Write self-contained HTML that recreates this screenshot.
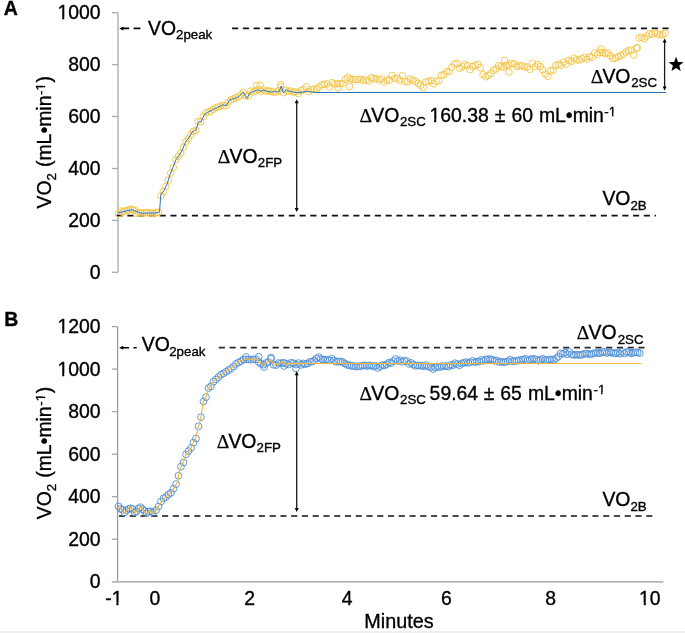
<!DOCTYPE html><html><head><meta charset="utf-8"><style>
html,body{margin:0;padding:0;background:#fff;}
body{width:685px;height:633px;overflow:hidden;position:relative;}
svg{position:absolute;left:0;top:0;will-change:transform;}
text{font-family:"Liberation Sans", sans-serif;fill:#000;stroke:#000;stroke-width:0.35px;}
text.sf{font-family:"Liberation Serif", serif;stroke-width:0.25px;}
</style></head><body>
<svg width="685" height="633" viewBox="0 0 685 633">
<rect x="0" y="631" width="685" height="2" fill="#efefef"/>

<line x1="118" y1="12.7" x2="118" y2="272.3" stroke="#a9a9a9" stroke-width="1.3"/>
<line x1="112" y1="12.7" x2="118" y2="12.7" stroke="#a9a9a9" stroke-width="1.3"/>
<text x="57.50" y="19.20" font-size="19.4">1000</text><rect x="57.72" y="16.75" width="4.46" height="3.85" fill="#fff"/><rect x="64.29" y="16.75" width="4.51" height="3.85" fill="#fff"/>
<line x1="112" y1="64.6" x2="118" y2="64.6" stroke="#a9a9a9" stroke-width="1.3"/>
<text x="68.29" y="71.12" font-size="19.4">800</text>
<line x1="112" y1="116.5" x2="118" y2="116.5" stroke="#a9a9a9" stroke-width="1.3"/>
<text x="68.29" y="123.04" font-size="19.4">600</text>
<line x1="112" y1="168.5" x2="118" y2="168.5" stroke="#a9a9a9" stroke-width="1.3"/>
<text x="68.29" y="174.96" font-size="19.4">400</text>
<line x1="112" y1="220.4" x2="118" y2="220.4" stroke="#a9a9a9" stroke-width="1.3"/>
<text x="68.29" y="226.88" font-size="19.4">200</text>
<line x1="112" y1="272.3" x2="118" y2="272.3" stroke="#a9a9a9" stroke-width="1.3"/>
<text x="89.87" y="278.80" font-size="19.4">0</text>
<line x1="117.6" y1="326.6" x2="117.6" y2="581.7" stroke="#9c9c9c" stroke-width="1.3"/>
<line x1="111.8" y1="581.8" x2="663.5" y2="581.8" stroke="#b4b4b4" stroke-width="1.8"/>
<line x1="111.8" y1="326.6" x2="117.6" y2="326.6" stroke="#a4a4a4" stroke-width="1.3"/>
<text x="57.50" y="333.10" font-size="19.4">1200</text><rect x="57.72" y="330.65" width="4.46" height="3.85" fill="#fff"/><rect x="64.29" y="330.65" width="4.51" height="3.85" fill="#fff"/>
<line x1="111.8" y1="369.1" x2="117.6" y2="369.1" stroke="#a4a4a4" stroke-width="1.3"/>
<text x="57.50" y="375.62" font-size="19.4">1000</text><rect x="57.72" y="373.17" width="4.46" height="3.85" fill="#fff"/><rect x="64.29" y="373.17" width="4.51" height="3.85" fill="#fff"/>
<line x1="111.8" y1="411.6" x2="117.6" y2="411.6" stroke="#a4a4a4" stroke-width="1.3"/>
<text x="68.29" y="418.14" font-size="19.4">800</text>
<line x1="111.8" y1="454.2" x2="117.6" y2="454.2" stroke="#a4a4a4" stroke-width="1.3"/>
<text x="68.29" y="460.66" font-size="19.4">600</text>
<line x1="111.8" y1="496.7" x2="117.6" y2="496.7" stroke="#a4a4a4" stroke-width="1.3"/>
<text x="68.29" y="503.18" font-size="19.4">400</text>
<line x1="111.8" y1="539.2" x2="117.6" y2="539.2" stroke="#a4a4a4" stroke-width="1.3"/>
<text x="68.29" y="545.70" font-size="19.4">200</text>
<text x="89.87" y="588.22" font-size="19.4">0</text>
<text x="105.24" y="604.60" font-size="19.4">-1</text><rect x="111.92" y="602.15" width="4.46" height="3.85" fill="#fff"/><rect x="118.50" y="602.15" width="4.51" height="3.85" fill="#fff"/>
<text x="149.61" y="604.60" font-size="19.4">0</text>
<text x="244.31" y="604.60" font-size="19.4">2</text>
<text x="341.77" y="604.60" font-size="19.4">4</text>
<text x="441.04" y="604.60" font-size="19.4">6</text>
<text x="545.31" y="604.60" font-size="19.4">8</text>
<text x="639.06" y="604.60" font-size="19.4">10</text><rect x="639.28" y="602.15" width="4.46" height="3.85" fill="#fff"/><rect x="645.85" y="602.15" width="4.51" height="3.85" fill="#fff"/>
<text x="364.28" y="628.40" font-size="19.8">Minutes</text>
<text x="3.71" y="14.50" font-size="19.5" font-weight="bold">A</text>
<text x="4.20" y="325.60" font-size="19.5" font-weight="bold">B</text>
<g transform="translate(50.7,208.6) rotate(-90)">
<text x="0.11" y="0.00" font-size="19.4">VO</text>
<text x="28.23" y="5.10" font-size="13.3">2</text>
<text x="41.60" y="0.00" font-size="19.4">(mL•min</text>
<text x="113.61" y="-6.00" font-size="13.3">-1</text><rect x="117.81" y="-7.99" width="3.37" height="3.39" fill="#fff"/><rect x="122.76" y="-7.99" width="3.47" height="3.39" fill="#fff"/>
<text x="126.14" y="0.00" font-size="19.4">)</text>
</g>
<g transform="translate(50.7,519.4) rotate(-90)">
<text x="0.11" y="0.00" font-size="19.4">VO</text>
<text x="28.23" y="5.10" font-size="13.3">2</text>
<text x="41.60" y="0.00" font-size="19.4">(mL•min</text>
<text x="113.61" y="-6.00" font-size="13.3">-1</text><rect x="117.81" y="-7.99" width="3.37" height="3.39" fill="#fff"/><rect x="122.76" y="-7.99" width="3.47" height="3.39" fill="#fff"/>
<text x="126.14" y="0.00" font-size="19.4">)</text>
</g>
<line x1="232.1" y1="28.4" x2="668.8" y2="28.4" stroke="#111" stroke-width="1.8" stroke-dasharray="6.1 4.66"/>
<line x1="116.6" y1="215.6" x2="656" y2="215.6" stroke="#111" stroke-width="1.8" stroke-dasharray="6.1 4.66"/>
<line x1="218.8" y1="347.7" x2="646" y2="347.7" stroke="#2a2a2a" stroke-width="1.8" stroke-dasharray="6.1 4.66"/>
<line x1="119" y1="516.1" x2="654" y2="516.1" stroke="#4a4a4a" stroke-width="2" stroke-dasharray="6.1 4.66"/>
<g fill="none" stroke="#F3C444" stroke-width="0.9">
<circle cx="118.5" cy="213.8" r="3.3"/>
<circle cx="120.5" cy="211.0" r="3.3"/>
<circle cx="122.5" cy="212.1" r="3.3"/>
<circle cx="124.5" cy="211.1" r="3.3"/>
<circle cx="126.5" cy="210.6" r="3.3"/>
<circle cx="128.5" cy="210.2" r="3.3"/>
<circle cx="130.5" cy="209.0" r="3.3"/>
<circle cx="132.5" cy="209.7" r="3.3"/>
<circle cx="134.5" cy="210.3" r="3.3"/>
<circle cx="136.5" cy="213.3" r="3.3"/>
<circle cx="138.5" cy="212.5" r="3.3"/>
<circle cx="140.5" cy="212.9" r="3.3"/>
<circle cx="142.5" cy="213.0" r="3.3"/>
<circle cx="144.5" cy="212.9" r="3.3"/>
<circle cx="146.5" cy="212.6" r="3.3"/>
<circle cx="148.5" cy="212.9" r="3.3"/>
<circle cx="150.5" cy="213.2" r="3.3"/>
<circle cx="152.5" cy="212.9" r="3.3"/>
<circle cx="154.5" cy="213.5" r="3.3"/>
<circle cx="156.5" cy="212.6" r="3.3"/>
<circle cx="158.5" cy="212.3" r="3.3"/>
<circle cx="160.8" cy="195.7" r="3.3"/>
<circle cx="163.3" cy="191.7" r="3.3"/>
<circle cx="165.8" cy="186.4" r="3.3"/>
<circle cx="168.3" cy="180.1" r="3.3"/>
<circle cx="170.8" cy="173.0" r="3.3"/>
<circle cx="173.3" cy="167.5" r="3.3"/>
<circle cx="175.8" cy="159.7" r="3.3"/>
<circle cx="178.3" cy="156.4" r="3.3"/>
<circle cx="180.8" cy="153.1" r="3.3"/>
<circle cx="183.3" cy="147.3" r="3.3"/>
<circle cx="185.8" cy="141.6" r="3.3"/>
<circle cx="188.3" cy="139.0" r="3.3"/>
<circle cx="190.8" cy="134.8" r="3.3"/>
<circle cx="193.3" cy="131.3" r="3.3"/>
<circle cx="195.8" cy="130.4" r="3.3"/>
<circle cx="198.3" cy="121.4" r="3.3"/>
<circle cx="200.8" cy="121.9" r="3.3"/>
<circle cx="203.3" cy="116.4" r="3.3"/>
<circle cx="205.8" cy="112.7" r="3.3"/>
<circle cx="208.3" cy="112.2" r="3.3"/>
<circle cx="210.8" cy="111.2" r="3.3"/>
<circle cx="213.3" cy="109.3" r="3.3"/>
<circle cx="215.8" cy="107.8" r="3.3"/>
<circle cx="218.3" cy="107.1" r="3.3"/>
<circle cx="220.8" cy="105.8" r="3.3"/>
<circle cx="223.3" cy="105.6" r="3.3"/>
<circle cx="225.8" cy="105.9" r="3.3"/>
<circle cx="228.3" cy="102.3" r="3.3"/>
<circle cx="230.8" cy="99.9" r="3.3"/>
<circle cx="233.3" cy="98.8" r="3.3"/>
<circle cx="235.8" cy="97.5" r="3.3"/>
<circle cx="238.3" cy="97.1" r="3.3"/>
<circle cx="240.8" cy="94.8" r="3.3"/>
<circle cx="243.3" cy="92.2" r="3.3"/>
<circle cx="245.8" cy="96.0" r="3.3"/>
<circle cx="248.3" cy="96.1" r="3.3"/>
<circle cx="250.8" cy="91.1" r="3.3"/>
<circle cx="253.3" cy="92.0" r="3.3"/>
<circle cx="255.8" cy="90.8" r="3.3"/>
<circle cx="258.3" cy="89.6" r="3.3"/>
<circle cx="260.8" cy="91.4" r="3.3"/>
<circle cx="263.3" cy="89.6" r="3.3"/>
<circle cx="265.8" cy="91.2" r="3.3"/>
<circle cx="268.3" cy="90.5" r="3.3"/>
<circle cx="270.8" cy="91.5" r="3.3"/>
<circle cx="273.3" cy="92.2" r="3.3"/>
<circle cx="275.8" cy="92.1" r="3.3"/>
<circle cx="278.3" cy="90.9" r="3.3"/>
<circle cx="280.8" cy="86.9" r="3.3"/>
<circle cx="283.3" cy="92.7" r="3.3"/>
<circle cx="285.8" cy="90.1" r="3.3"/>
<circle cx="288.3" cy="91.5" r="3.3"/>
<circle cx="290.8" cy="91.0" r="3.3"/>
<circle cx="293.3" cy="92.2" r="3.3"/>
<circle cx="295.8" cy="91.9" r="3.3"/>
<circle cx="298.3" cy="93.5" r="3.3"/>
<circle cx="301.0" cy="90.6" r="3.3"/>
<circle cx="303.6" cy="89.5" r="3.3"/>
<circle cx="306.2" cy="86.9" r="3.3"/>
<circle cx="308.8" cy="91.5" r="3.3"/>
<circle cx="311.4" cy="89.6" r="3.3"/>
<circle cx="314.0" cy="89.1" r="3.3"/>
<circle cx="316.6" cy="88.9" r="3.3"/>
<circle cx="319.2" cy="87.0" r="3.3"/>
<circle cx="321.8" cy="84.8" r="3.3"/>
<circle cx="324.4" cy="84.2" r="3.3"/>
<circle cx="327.0" cy="83.9" r="3.3"/>
<circle cx="329.6" cy="87.0" r="3.3"/>
<circle cx="332.2" cy="82.7" r="3.3"/>
<circle cx="334.8" cy="84.0" r="3.3"/>
<circle cx="337.4" cy="83.7" r="3.3"/>
<circle cx="340.0" cy="83.7" r="3.3"/>
<circle cx="342.6" cy="83.4" r="3.3"/>
<circle cx="345.2" cy="79.4" r="3.3"/>
<circle cx="347.8" cy="77.4" r="3.3"/>
<circle cx="350.4" cy="78.7" r="3.3"/>
<circle cx="353.0" cy="79.5" r="3.3"/>
<circle cx="355.6" cy="79.5" r="3.3"/>
<circle cx="358.2" cy="79.4" r="3.3"/>
<circle cx="360.8" cy="79.1" r="3.3"/>
<circle cx="363.4" cy="80.5" r="3.3"/>
<circle cx="366.0" cy="80.0" r="3.3"/>
<circle cx="368.6" cy="80.9" r="3.3"/>
<circle cx="371.2" cy="77.7" r="3.3"/>
<circle cx="373.8" cy="78.7" r="3.3"/>
<circle cx="376.4" cy="78.6" r="3.3"/>
<circle cx="379.0" cy="79.8" r="3.3"/>
<circle cx="381.6" cy="79.2" r="3.3"/>
<circle cx="384.2" cy="82.1" r="3.3"/>
<circle cx="386.8" cy="80.0" r="3.3"/>
<circle cx="389.4" cy="80.2" r="3.3"/>
<circle cx="392.0" cy="75.4" r="3.3"/>
<circle cx="394.6" cy="78.5" r="3.3"/>
<circle cx="397.2" cy="78.2" r="3.3"/>
<circle cx="399.8" cy="80.0" r="3.3"/>
<circle cx="402.4" cy="75.8" r="3.3"/>
<circle cx="405.0" cy="81.5" r="3.3"/>
<circle cx="407.6" cy="81.9" r="3.3"/>
<circle cx="410.2" cy="78.9" r="3.3"/>
<circle cx="412.8" cy="80.2" r="3.3"/>
<circle cx="415.4" cy="81.2" r="3.3"/>
<circle cx="418.0" cy="83.3" r="3.3"/>
<circle cx="420.6" cy="85.2" r="3.3"/>
<circle cx="423.2" cy="87.6" r="3.3"/>
<circle cx="425.8" cy="82.0" r="3.3"/>
<circle cx="428.4" cy="81.2" r="3.3"/>
<circle cx="431.0" cy="80.8" r="3.3"/>
<circle cx="433.6" cy="83.8" r="3.3"/>
<circle cx="436.2" cy="81.4" r="3.3"/>
<circle cx="438.8" cy="80.7" r="3.3"/>
<circle cx="441.4" cy="75.3" r="3.3"/>
<circle cx="444.0" cy="74.7" r="3.3"/>
<circle cx="446.6" cy="71.6" r="3.3"/>
<circle cx="449.2" cy="71.8" r="3.3"/>
<circle cx="451.8" cy="67.2" r="3.3"/>
<circle cx="454.4" cy="63.9" r="3.3"/>
<circle cx="457.0" cy="63.4" r="3.3"/>
<circle cx="459.6" cy="68.3" r="3.3"/>
<circle cx="462.2" cy="66.8" r="3.3"/>
<circle cx="464.8" cy="64.5" r="3.3"/>
<circle cx="467.4" cy="65.7" r="3.3"/>
<circle cx="470.0" cy="69.6" r="3.3"/>
<circle cx="472.6" cy="66.4" r="3.3"/>
<circle cx="475.2" cy="65.6" r="3.3"/>
<circle cx="477.8" cy="64.4" r="3.3"/>
<circle cx="480.4" cy="67.7" r="3.3"/>
<circle cx="483.0" cy="74.7" r="3.3"/>
<circle cx="485.6" cy="76.8" r="3.3"/>
<circle cx="488.2" cy="75.5" r="3.3"/>
<circle cx="490.8" cy="73.5" r="3.3"/>
<circle cx="493.4" cy="70.4" r="3.3"/>
<circle cx="496.0" cy="68.9" r="3.3"/>
<circle cx="498.6" cy="65.5" r="3.3"/>
<circle cx="501.2" cy="66.6" r="3.3"/>
<circle cx="503.8" cy="67.1" r="3.3"/>
<circle cx="506.4" cy="65.3" r="3.3"/>
<circle cx="509.0" cy="65.0" r="3.3"/>
<circle cx="511.6" cy="63.5" r="3.3"/>
<circle cx="514.2" cy="63.9" r="3.3"/>
<circle cx="516.8" cy="66.7" r="3.3"/>
<circle cx="519.4" cy="65.7" r="3.3"/>
<circle cx="522.0" cy="65.7" r="3.3"/>
<circle cx="524.6" cy="66.8" r="3.3"/>
<circle cx="527.2" cy="67.0" r="3.3"/>
<circle cx="529.8" cy="69.3" r="3.3"/>
<circle cx="532.4" cy="63.3" r="3.3"/>
<circle cx="535.0" cy="66.7" r="3.3"/>
<circle cx="537.6" cy="64.5" r="3.3"/>
<circle cx="540.2" cy="66.5" r="3.3"/>
<circle cx="542.8" cy="69.8" r="3.3"/>
<circle cx="545.4" cy="74.0" r="3.3"/>
<circle cx="548.0" cy="76.3" r="3.3"/>
<circle cx="550.6" cy="70.8" r="3.3"/>
<circle cx="553.2" cy="70.2" r="3.3"/>
<circle cx="555.8" cy="65.4" r="3.3"/>
<circle cx="558.4" cy="64.3" r="3.3"/>
<circle cx="561.0" cy="65.1" r="3.3"/>
<circle cx="563.6" cy="62.1" r="3.3"/>
<circle cx="566.2" cy="64.2" r="3.3"/>
<circle cx="568.8" cy="60.5" r="3.3"/>
<circle cx="571.4" cy="61.4" r="3.3"/>
<circle cx="574.0" cy="58.1" r="3.3"/>
<circle cx="576.6" cy="59.8" r="3.3"/>
<circle cx="579.2" cy="60.1" r="3.3"/>
<circle cx="581.8" cy="58.8" r="3.3"/>
<circle cx="584.4" cy="57.4" r="3.3"/>
<circle cx="587.0" cy="59.1" r="3.3"/>
<circle cx="589.6" cy="56.6" r="3.3"/>
<circle cx="592.2" cy="57.2" r="3.3"/>
<circle cx="594.8" cy="52.8" r="3.3"/>
<circle cx="597.4" cy="54.4" r="3.3"/>
<circle cx="600.0" cy="52.5" r="3.3"/>
<circle cx="602.6" cy="52.7" r="3.3"/>
<circle cx="605.2" cy="53.5" r="3.3"/>
<circle cx="607.8" cy="53.0" r="3.3"/>
<circle cx="610.4" cy="55.8" r="3.3"/>
<circle cx="613.0" cy="58.5" r="3.3"/>
<circle cx="615.6" cy="58.0" r="3.3"/>
<circle cx="618.2" cy="56.6" r="3.3"/>
<circle cx="620.8" cy="55.6" r="3.3"/>
<circle cx="623.4" cy="54.2" r="3.3"/>
<circle cx="626.0" cy="52.0" r="3.3"/>
<circle cx="628.6" cy="50.7" r="3.3"/>
<circle cx="631.2" cy="50.0" r="3.3"/>
<circle cx="633.8" cy="55.2" r="3.3"/>
<circle cx="636.4" cy="48.0" r="3.3"/>
<circle cx="639.0" cy="38.0" r="3.3"/>
<circle cx="641.6" cy="37.2" r="3.3"/>
<circle cx="644.2" cy="38.6" r="3.3"/>
<circle cx="646.8" cy="36.0" r="3.3"/>
<circle cx="649.4" cy="33.7" r="3.3"/>
<circle cx="652.0" cy="34.3" r="3.3"/>
<circle cx="654.6" cy="32.6" r="3.3"/>
<circle cx="657.2" cy="33.7" r="3.3"/>
<circle cx="659.8" cy="34.8" r="3.3"/>
<circle cx="662.4" cy="34.8" r="3.3"/>
<circle cx="665.0" cy="33.2" r="3.3"/>
<circle cx="256.4" cy="85.5" r="3.3"/>
<circle cx="280.5" cy="84.8" r="3.3"/>
<circle cx="260" cy="85" r="3.3"/>
<circle cx="349.6" cy="86.4" r="3.3"/>
<circle cx="338" cy="88" r="3.3"/>
<circle cx="504.6" cy="60.4" r="3.3"/>
<circle cx="509" cy="72.1" r="3.3"/>
<circle cx="601.2" cy="49.2" r="3.3"/>
<circle cx="637.3" cy="47.8" r="3.3"/>
</g>
<polyline points="118.3,212.8 122.0,212.0 126.0,211.0 129.0,210.2 132.8,209.8 136.0,211.5 140.7,213.1 145.0,213.2 150.0,213.0 155.0,213.0 157.3,212.6 159.5,212.0 160.8,194.9 161.1,194.3 163.7,190.9 167.2,183.9 169.8,175.2 173.3,166.5 175.9,159.6 179.3,155.2 182.8,149.1 185.4,142.2 188.9,137.8 192.4,131.7 195.9,130.0 198.5,122.2 201.1,121.3 204.6,114.3 207.2,112.6 212.4,110.0 217.6,107.4 222.8,104.8 226.3,105.7 229.8,99.6 234.1,98.7 238.9,96.5 243.2,92.1 246.9,98.2 250.5,92.4 254.2,91.4 257.1,89.9 260.8,91.4 263.7,89.9 267.3,91.4 271.7,92.1 275.4,91.4 279.0,92.1 281.2,86.0 283.4,92.8 286.3,89.9 290.0,91.4 293.6,92.1 298.0,92.8 302.4,92.1 306.8,91.4 312.6,92.1 317.0,92.5 666.0,92.5" fill="none" stroke="#2F75BA" stroke-width="1.0" stroke-linejoin="round"/>
<g fill="none" stroke="#4F8ED5" stroke-width="0.9">
<circle cx="118.5" cy="506.4" r="3.4"/>
<circle cx="120.5" cy="508.7" r="3.4"/>
<circle cx="122.5" cy="509.7" r="3.4"/>
<circle cx="124.5" cy="512.6" r="3.4"/>
<circle cx="126.5" cy="510.5" r="3.4"/>
<circle cx="128.5" cy="508.9" r="3.4"/>
<circle cx="130.5" cy="508.3" r="3.4"/>
<circle cx="132.5" cy="509.0" r="3.4"/>
<circle cx="134.5" cy="512.4" r="3.4"/>
<circle cx="136.5" cy="511.5" r="3.4"/>
<circle cx="138.5" cy="508.5" r="3.4"/>
<circle cx="140.5" cy="507.2" r="3.4"/>
<circle cx="142.5" cy="509.1" r="3.4"/>
<circle cx="144.5" cy="510.8" r="3.4"/>
<circle cx="146.5" cy="513.2" r="3.4"/>
<circle cx="148.5" cy="511.6" r="3.4"/>
<circle cx="150.5" cy="511.3" r="3.4"/>
<circle cx="152.5" cy="512.3" r="3.4"/>
<circle cx="156.0" cy="510.2" r="3.4"/>
<circle cx="158.5" cy="506.6" r="3.4"/>
<circle cx="161.0" cy="501.5" r="3.4"/>
<circle cx="163.5" cy="498.3" r="3.4"/>
<circle cx="166.0" cy="497.0" r="3.4"/>
<circle cx="168.5" cy="494.4" r="3.4"/>
<circle cx="171.0" cy="492.8" r="3.4"/>
<circle cx="173.5" cy="488.7" r="3.4"/>
<circle cx="176.0" cy="484.1" r="3.4"/>
<circle cx="178.5" cy="475.7" r="3.4"/>
<circle cx="181.0" cy="466.6" r="3.4"/>
<circle cx="183.5" cy="462.5" r="3.4"/>
<circle cx="186.0" cy="454.4" r="3.4"/>
<circle cx="188.5" cy="451.1" r="3.4"/>
<circle cx="191.0" cy="448.0" r="3.4"/>
<circle cx="193.5" cy="442.5" r="3.4"/>
<circle cx="196.0" cy="438.5" r="3.4"/>
<circle cx="198.5" cy="426.3" r="3.4"/>
<circle cx="201.0" cy="417.1" r="3.4"/>
<circle cx="203.5" cy="401.4" r="3.4"/>
<circle cx="206.0" cy="397.2" r="3.4"/>
<circle cx="208.5" cy="388.1" r="3.4"/>
<circle cx="211.0" cy="386.3" r="3.4"/>
<circle cx="213.5" cy="381.8" r="3.4"/>
<circle cx="216.0" cy="379.4" r="3.4"/>
<circle cx="218.5" cy="377.1" r="3.4"/>
<circle cx="221.0" cy="374.7" r="3.4"/>
<circle cx="223.5" cy="373.3" r="3.4"/>
<circle cx="226.0" cy="371.8" r="3.4"/>
<circle cx="228.5" cy="370.1" r="3.4"/>
<circle cx="231.0" cy="368.7" r="3.4"/>
<circle cx="233.5" cy="366.5" r="3.4"/>
<circle cx="236.0" cy="363.9" r="3.4"/>
<circle cx="238.5" cy="362.5" r="3.4"/>
<circle cx="241.0" cy="361.2" r="3.4"/>
<circle cx="243.5" cy="359.6" r="3.4"/>
<circle cx="246.0" cy="359.5" r="3.4"/>
<circle cx="248.5" cy="359.5" r="3.4"/>
<circle cx="251.0" cy="359.6" r="3.4"/>
<circle cx="253.5" cy="359.3" r="3.4"/>
<circle cx="256.0" cy="359.4" r="3.4"/>
<circle cx="258.5" cy="362.0" r="3.4"/>
<circle cx="261.0" cy="363.8" r="3.4"/>
<circle cx="263.5" cy="364.7" r="3.4"/>
<circle cx="266.0" cy="363.0" r="3.4"/>
<circle cx="268.5" cy="362.0" r="3.4"/>
<circle cx="271.0" cy="358.8" r="3.4"/>
<circle cx="273.5" cy="364.7" r="3.4"/>
<circle cx="276.0" cy="365.1" r="3.4"/>
<circle cx="278.5" cy="363.0" r="3.4"/>
<circle cx="281.0" cy="363.3" r="3.4"/>
<circle cx="283.5" cy="362.6" r="3.4"/>
<circle cx="286.0" cy="363.7" r="3.4"/>
<circle cx="288.5" cy="364.5" r="3.4"/>
<circle cx="291.0" cy="362.8" r="3.4"/>
<circle cx="293.5" cy="363.2" r="3.4"/>
<circle cx="296.0" cy="364.5" r="3.4"/>
<circle cx="298.5" cy="363.1" r="3.4"/>
<circle cx="301.0" cy="364.9" r="3.4"/>
<circle cx="303.2" cy="363.4" r="3.4"/>
<circle cx="305.4" cy="364.2" r="3.4"/>
<circle cx="307.6" cy="363.5" r="3.4"/>
<circle cx="309.8" cy="361.8" r="3.4"/>
<circle cx="312.0" cy="361.6" r="3.4"/>
<circle cx="314.2" cy="360.7" r="3.4"/>
<circle cx="316.4" cy="358.5" r="3.4"/>
<circle cx="318.6" cy="357.1" r="3.4"/>
<circle cx="320.8" cy="358.7" r="3.4"/>
<circle cx="323.0" cy="359.6" r="3.4"/>
<circle cx="325.2" cy="359.8" r="3.4"/>
<circle cx="327.4" cy="359.9" r="3.4"/>
<circle cx="329.6" cy="360.3" r="3.4"/>
<circle cx="331.8" cy="358.7" r="3.4"/>
<circle cx="334.0" cy="360.5" r="3.4"/>
<circle cx="336.2" cy="361.8" r="3.4"/>
<circle cx="338.4" cy="361.6" r="3.4"/>
<circle cx="340.6" cy="361.5" r="3.4"/>
<circle cx="342.8" cy="362.1" r="3.4"/>
<circle cx="345.0" cy="363.6" r="3.4"/>
<circle cx="347.2" cy="364.9" r="3.4"/>
<circle cx="349.4" cy="365.2" r="3.4"/>
<circle cx="351.6" cy="366.0" r="3.4"/>
<circle cx="353.8" cy="366.0" r="3.4"/>
<circle cx="356.0" cy="366.6" r="3.4"/>
<circle cx="358.2" cy="366.2" r="3.4"/>
<circle cx="360.4" cy="366.3" r="3.4"/>
<circle cx="362.6" cy="365.6" r="3.4"/>
<circle cx="364.8" cy="365.3" r="3.4"/>
<circle cx="367.0" cy="366.0" r="3.4"/>
<circle cx="369.2" cy="365.5" r="3.4"/>
<circle cx="371.4" cy="365.5" r="3.4"/>
<circle cx="373.6" cy="366.6" r="3.4"/>
<circle cx="375.8" cy="365.9" r="3.4"/>
<circle cx="378.0" cy="367.9" r="3.4"/>
<circle cx="380.2" cy="366.3" r="3.4"/>
<circle cx="382.4" cy="365.1" r="3.4"/>
<circle cx="384.6" cy="365.4" r="3.4"/>
<circle cx="386.8" cy="364.2" r="3.4"/>
<circle cx="389.0" cy="362.6" r="3.4"/>
<circle cx="391.2" cy="363.1" r="3.4"/>
<circle cx="393.4" cy="361.1" r="3.4"/>
<circle cx="395.6" cy="358.9" r="3.4"/>
<circle cx="397.8" cy="361.0" r="3.4"/>
<circle cx="400.0" cy="360.2" r="3.4"/>
<circle cx="402.2" cy="361.9" r="3.4"/>
<circle cx="404.4" cy="360.7" r="3.4"/>
<circle cx="406.6" cy="361.1" r="3.4"/>
<circle cx="408.8" cy="363.9" r="3.4"/>
<circle cx="411.0" cy="362.9" r="3.4"/>
<circle cx="413.2" cy="364.5" r="3.4"/>
<circle cx="415.4" cy="365.9" r="3.4"/>
<circle cx="417.6" cy="365.4" r="3.4"/>
<circle cx="419.8" cy="365.6" r="3.4"/>
<circle cx="422.0" cy="365.8" r="3.4"/>
<circle cx="424.2" cy="366.3" r="3.4"/>
<circle cx="426.4" cy="365.1" r="3.4"/>
<circle cx="428.6" cy="366.6" r="3.4"/>
<circle cx="430.8" cy="367.2" r="3.4"/>
<circle cx="433.0" cy="369.1" r="3.4"/>
<circle cx="435.2" cy="367.4" r="3.4"/>
<circle cx="437.4" cy="366.5" r="3.4"/>
<circle cx="439.6" cy="367.3" r="3.4"/>
<circle cx="441.8" cy="366.1" r="3.4"/>
<circle cx="444.0" cy="366.4" r="3.4"/>
<circle cx="446.2" cy="366.0" r="3.4"/>
<circle cx="448.4" cy="366.6" r="3.4"/>
<circle cx="450.6" cy="365.0" r="3.4"/>
<circle cx="452.8" cy="365.2" r="3.4"/>
<circle cx="455.0" cy="363.2" r="3.4"/>
<circle cx="457.2" cy="364.1" r="3.4"/>
<circle cx="459.4" cy="365.3" r="3.4"/>
<circle cx="461.6" cy="363.4" r="3.4"/>
<circle cx="463.8" cy="362.9" r="3.4"/>
<circle cx="466.0" cy="362.1" r="3.4"/>
<circle cx="468.2" cy="362.9" r="3.4"/>
<circle cx="470.4" cy="362.2" r="3.4"/>
<circle cx="472.6" cy="361.0" r="3.4"/>
<circle cx="474.8" cy="362.1" r="3.4"/>
<circle cx="477.0" cy="361.6" r="3.4"/>
<circle cx="479.2" cy="361.5" r="3.4"/>
<circle cx="481.4" cy="359.8" r="3.4"/>
<circle cx="483.6" cy="360.8" r="3.4"/>
<circle cx="485.8" cy="359.4" r="3.4"/>
<circle cx="488.0" cy="359.3" r="3.4"/>
<circle cx="490.2" cy="359.2" r="3.4"/>
<circle cx="492.4" cy="359.6" r="3.4"/>
<circle cx="494.6" cy="360.8" r="3.4"/>
<circle cx="496.8" cy="360.5" r="3.4"/>
<circle cx="499.0" cy="361.9" r="3.4"/>
<circle cx="501.2" cy="361.7" r="3.4"/>
<circle cx="503.4" cy="362.3" r="3.4"/>
<circle cx="505.6" cy="361.9" r="3.4"/>
<circle cx="507.8" cy="361.3" r="3.4"/>
<circle cx="510.0" cy="359.8" r="3.4"/>
<circle cx="512.2" cy="361.1" r="3.4"/>
<circle cx="514.4" cy="361.3" r="3.4"/>
<circle cx="516.6" cy="360.6" r="3.4"/>
<circle cx="518.8" cy="360.6" r="3.4"/>
<circle cx="521.0" cy="359.7" r="3.4"/>
<circle cx="523.2" cy="359.5" r="3.4"/>
<circle cx="525.4" cy="358.9" r="3.4"/>
<circle cx="527.6" cy="360.3" r="3.4"/>
<circle cx="529.8" cy="359.4" r="3.4"/>
<circle cx="532.0" cy="359.1" r="3.4"/>
<circle cx="534.2" cy="358.7" r="3.4"/>
<circle cx="536.4" cy="359.8" r="3.4"/>
<circle cx="538.6" cy="360.7" r="3.4"/>
<circle cx="540.8" cy="359.8" r="3.4"/>
<circle cx="543.0" cy="358.8" r="3.4"/>
<circle cx="545.2" cy="360.1" r="3.4"/>
<circle cx="547.4" cy="360.0" r="3.4"/>
<circle cx="549.6" cy="359.6" r="3.4"/>
<circle cx="551.8" cy="359.4" r="3.4"/>
<circle cx="554.0" cy="359.8" r="3.4"/>
<circle cx="556.2" cy="358.4" r="3.4"/>
<circle cx="558.4" cy="356.6" r="3.4"/>
<circle cx="560.6" cy="353.4" r="3.4"/>
<circle cx="562.8" cy="353.9" r="3.4"/>
<circle cx="565.0" cy="352.8" r="3.4"/>
<circle cx="567.2" cy="354.3" r="3.4"/>
<circle cx="569.4" cy="351.9" r="3.4"/>
<circle cx="571.6" cy="354.3" r="3.4"/>
<circle cx="573.8" cy="355.0" r="3.4"/>
<circle cx="576.0" cy="354.6" r="3.4"/>
<circle cx="578.2" cy="354.9" r="3.4"/>
<circle cx="580.4" cy="354.9" r="3.4"/>
<circle cx="582.6" cy="354.6" r="3.4"/>
<circle cx="584.8" cy="353.6" r="3.4"/>
<circle cx="587.0" cy="353.6" r="3.4"/>
<circle cx="589.2" cy="354.2" r="3.4"/>
<circle cx="591.4" cy="354.2" r="3.4"/>
<circle cx="593.6" cy="353.2" r="3.4"/>
<circle cx="595.8" cy="353.0" r="3.4"/>
<circle cx="598.0" cy="352.9" r="3.4"/>
<circle cx="600.2" cy="353.3" r="3.4"/>
<circle cx="602.4" cy="352.0" r="3.4"/>
<circle cx="604.6" cy="351.9" r="3.4"/>
<circle cx="606.8" cy="353.0" r="3.4"/>
<circle cx="609.0" cy="352.2" r="3.4"/>
<circle cx="611.2" cy="352.6" r="3.4"/>
<circle cx="613.4" cy="353.1" r="3.4"/>
<circle cx="615.6" cy="353.4" r="3.4"/>
<circle cx="617.8" cy="352.4" r="3.4"/>
<circle cx="620.0" cy="353.8" r="3.4"/>
<circle cx="622.2" cy="351.9" r="3.4"/>
<circle cx="624.4" cy="353.5" r="3.4"/>
<circle cx="626.6" cy="352.0" r="3.4"/>
<circle cx="628.8" cy="352.1" r="3.4"/>
<circle cx="631.0" cy="353.4" r="3.4"/>
<circle cx="633.2" cy="352.7" r="3.4"/>
<circle cx="635.4" cy="352.3" r="3.4"/>
<circle cx="637.6" cy="352.5" r="3.4"/>
<circle cx="639.8" cy="353.1" r="3.4"/>
<circle cx="258.7" cy="356.8" r="3.4"/>
<circle cx="271" cy="357.5" r="3.4"/>
<circle cx="295.9" cy="368.5" r="3.4"/>
<circle cx="246" cy="357" r="3.4"/>
<circle cx="264" cy="367" r="3.4"/>
<circle cx="284" cy="366" r="3.4"/>
</g>
<polyline points="118.4,506.7 125.0,513.2 129.7,506.7 135.2,513.2 140.3,506.7 146.1,513.6 149.8,510.7 153.4,513.6 157.8,507.4 162.7,499.2 166.5,496.7 170.3,492.9 174.1,487.8 177.8,481.5 179.1,471.4 181.6,465.1 184.2,460.0 186.7,452.4 190.0,449.9 193.0,443.5 196.1,437.2 197.6,429.6 200.6,419.5 203.2,401.8 205.7,398.0 208.2,389.1 212.0,384.1 214.6,380.3 218.4,377.7 222.2,373.9 225.8,371.4 231.7,367.7 237.5,362.6 243.4,359.7 247.7,358.7 252.1,359.7 256.5,359.0 259.4,361.9 262.3,365.5 266.7,362.6 271.1,359.7 274.0,365.5 278.4,363.4 282.8,361.9 287.2,364.8 291.5,363.4 295.9,363.6 301.8,363.4 310.5,363.5 641.2,363.5" fill="none" stroke="#F0B93A" stroke-width="1.15" stroke-linejoin="round"/>
<path d="M119.3 28.4 L123.3 26.4 L123.3 30.4 Z" fill="#000"/><line x1="122.3" y1="28.4" x2="141" y2="28.4" stroke="#000" stroke-width="1.6" stroke-dasharray="6.8 4.5"/>
<path d="M119.2 347.8 L123.2 345.8 L123.2 349.8 Z" fill="#000"/><line x1="122.2" y1="347.8" x2="136.7" y2="347.8" stroke="#000" stroke-width="1.6" stroke-dasharray="6.8 4.5"/>
<line x1="296.7" y1="101.3" x2="296.7" y2="210.1" stroke="#1a1a1a" stroke-width="1.3"/><path d="M296.7 99.3 L294.7 103.3 L298.7 103.3 Z" fill="#000"/><path d="M296.7 212.1 L294.7 208.1 L298.7 208.1 Z" fill="#000"/>
<line x1="664.6" y1="40.6" x2="664.6" y2="88.4" stroke="#1a1a1a" stroke-width="1.3"/><path d="M664.6 38.6 L662.6 42.6 L666.6 42.6 Z" fill="#000"/><path d="M664.6 90.4 L662.6 86.4 L666.6 86.4 Z" fill="#000"/>
<line x1="296.7" y1="373.3" x2="296.7" y2="510.1" stroke="#1a1a1a" stroke-width="1.3"/><path d="M296.7 371.3 L294.7 375.3 L298.7 375.3 Z" fill="#000"/><path d="M296.7 512.1 L294.7 508.1 L298.7 508.1 Z" fill="#000"/>
<polygon points="676.1,56.7 678.1,61.9 683.6,62.2 679.3,65.6 680.7,71.0 676.1,67.9 671.5,71.0 672.9,65.6 668.6,62.2 674.1,61.9" fill="#000"/>
<text x="148.11" y="34.50" font-size="19.4">VO</text>
<text x="176.03" y="38.60" font-size="13.3">2peak</text>
<text x="217.76" y="162.90" font-size="19.5" class="sf">Δ</text>
<text x="229.51" y="162.90" font-size="19.4">VO</text>
<text x="257.83" y="167.00" font-size="13.3">2FP</text>
<text x="359.46" y="121.60" font-size="19.5" class="sf">Δ</text>
<text x="371.21" y="121.60" font-size="19.4">VO</text>
<text x="399.93" y="125.60" font-size="13.3">2SC</text>
<text x="429.43" y="121.60" font-size="19.4">160.38</text><rect x="429.65" y="119.15" width="4.46" height="3.85" fill="#fff"/><rect x="436.23" y="119.15" width="4.51" height="3.85" fill="#fff"/>
<text x="494.78" y="121.60" font-size="19.4">±</text>
<text x="511.41" y="121.60" font-size="19.4">60</text>
<text x="538.91" y="121.60" font-size="19.4">mL•min</text>
<text x="604.31" y="115.80" font-size="13.3">-1</text><rect x="608.51" y="113.81" width="3.37" height="3.39" fill="#fff"/><rect x="613.46" y="113.81" width="3.47" height="3.39" fill="#fff"/>
<text x="590.66" y="82.60" font-size="19.5" class="sf">Δ</text>
<text x="602.41" y="82.60" font-size="19.4">VO</text>
<text x="631.23" y="87.00" font-size="13.3">2SC</text>
<text x="602.41" y="205.10" font-size="19.4">VO</text>
<text x="630.43" y="209.90" font-size="13.3">2B</text>
<text x="141.81" y="351.10" font-size="19.4">VO</text>
<text x="169.23" y="355.80" font-size="13.3">2peak</text>
<text x="216.66" y="448.10" font-size="19.5" class="sf">Δ</text>
<text x="228.41" y="448.10" font-size="19.4">VO</text>
<text x="256.53" y="451.80" font-size="13.3">2FP</text>
<text x="359.46" y="399.80" font-size="19.5" class="sf">Δ</text>
<text x="371.21" y="399.80" font-size="19.4">VO</text>
<text x="400.03" y="403.80" font-size="13.3">2SC</text>
<text x="429.62" y="399.80" font-size="19.4">59.64</text>
<text x="483.78" y="399.80" font-size="19.4">±</text>
<text x="500.21" y="399.80" font-size="19.4">65</text>
<text x="527.91" y="399.80" font-size="19.4">mL•min</text>
<text x="593.51" y="394.00" font-size="13.3">-1</text><rect x="597.71" y="392.01" width="3.37" height="3.39" fill="#fff"/><rect x="602.66" y="392.01" width="3.47" height="3.39" fill="#fff"/>
<text x="576.86" y="339.20" font-size="19.5" class="sf">Δ</text>
<text x="588.61" y="339.20" font-size="19.4">VO</text>
<text x="617.63" y="343.60" font-size="13.3">2SC</text>
<text x="602.41" y="506.30" font-size="19.4">VO</text>
<text x="630.43" y="511.10" font-size="13.3">2B</text>
</svg></body></html>
